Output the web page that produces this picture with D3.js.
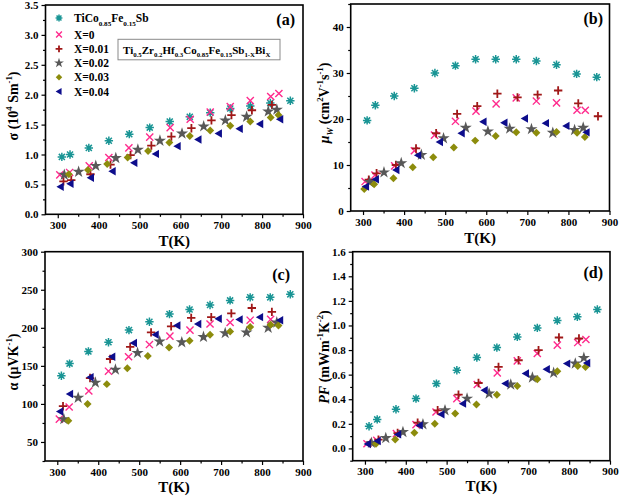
<!DOCTYPE html>
<html><head><meta charset="utf-8">
<script src="https://cdn.jsdelivr.net/npm/d3@7"></script>
<style>
body{margin:0;background:#fff}
svg text{font-family:"Liberation Serif","Times New Roman",serif;font-weight:bold;fill:#000}
</style>
</head><body>
<svg id="chart" width="620" height="497"></svg>
<script>
// ---------- DATA ----------
const seriesNames = ["TiCo0.85Fe0.15Sb", "X=0", "X=0.01", "X=0.02", "X=0.03", "X=0.04"];
const seriesColors = ["#1a9595", "#ff2a8d", "#a01818", "#585858", "#8c8c0c", "#0d0d8c"];
const seriesShapes = ["asterisk", "x", "plus", "star", "diamond", "triLeft"];

// temperatures (K) for each series
const T_TiCoFeSb = [310, 330, 376, 425, 475, 525, 574, 623, 673, 722, 771, 820, 869];
const T_X000 = [305, 329, 377, 425, 474, 525, 575, 624, 673, 722, 771, 821, 841];
const T_X001 = [314, 333, 380, 429, 478, 529, 578, 627, 676, 725, 775, 824, 872];
const T_X002 = [316, 351, 393, 442, 496, 550, 604, 657, 710, 762, 815, 836];
const T_X003 = [303, 327, 374, 421, 471, 521, 573, 623, 673, 722, 771, 821, 840];
const T_X004 = [307, 331, 381, 434, 487, 540, 593, 644, 694, 745, 795, 844];

// (a) electrical conductivity sigma (10^4 S/m)
const sigma_TiCoFeSb = [0.96, 1.00, 1.11, 1.23, 1.34, 1.45, 1.55, 1.63, 1.70, 1.77, 1.81, 1.86, 1.90];
const sigma_X000 = [0.66, 0.70, 0.81, 0.95, 1.11, 1.29, 1.45, 1.59, 1.71, 1.80, 1.90, 1.97, 2.02];
const sigma_X001 = [0.55, 0.57, 0.67, 0.83, 0.99, 1.15, 1.30, 1.44, 1.57, 1.66, 1.74, 1.83, null];
const sigma_X002 = [0.66, 0.71, 0.81, 0.94, 1.08, 1.23, 1.35, 1.47, 1.57, 1.63, 1.72, 1.75];
const sigma_X003 = [null, 0.67, 0.74, 0.84, 0.95, 1.06, 1.20, 1.31, 1.40, 1.48, 1.55, 1.62, 1.66];
const sigma_X004 = [0.46, 0.51, 0.61, 0.72, 0.86, 1.01, 1.14, 1.25, 1.35, 1.43, 1.51, 1.59];

// (b) weighted mobility mu_W (cm^2 V^-1 s^-1)
const mu_TiCoFeSb = [19.7, 23.0, 25.0, 26.7, 30.0, 31.6, 33.0, 33.0, 33.0, 32.6, 31.8, 29.8, 29.1];
const mu_X000 = [6.4, 7.8, 9.8, 13.1, 16.5, 19.5, 21.7, 23.3, 24.6, 23.9, 23.5, 21.9, 21.9];
const mu_X001 = [6.8, 8.2, 10.0, 13.6, 16.9, 21.1, 22.8, 25.5, 24.7, 25.3, 26.2, 23.4, 20.6];
const mu_X002 = [6.3, 8.4, 10.4, 12.2, 15.8, 18.1, 17.3, 17.9, 17.8, 17.0, 17.6, 18.1];
const mu_X003 = [4.8, 5.8, 7.1, 9.5, 11.7, 13.8, 15.3, 16.3, 17.1, 17.0, 17.2, 17.0, 16.1];
const mu_X004 = [5.3, 6.9, 8.9, 12.1, 15.0, 16.9, 19.4, 19.2, 20.1, 19.1, 18.5, 17.1];

// (c) Seebeck coefficient alpha (uV/K)
const alpha_TiCoFeSb = [137, 153, 169, 181, 197, 208, 218, 224, 230, 236, 240, 240, 244];
const alpha_X000 = [80, 96, 117, 143, 162, 178, 189, 197, 205, 207, 210, 211, null];
const alpha_X001 = [97, null, 134, 159, 175, 194, 202, 213, 214, 219, 226, 221, null];
const alpha_X002 = [80, 108, 128, 145, 167, 182, 181, 188, 193, 194, 200, 207];
const alpha_X003 = [null, 78, 100, 126, 147, 163, 174, 183, 191, 195, 201, 204, 203];
const alpha_X004 = [90, 113, 135, 162, 180, 191, 203, 205, 212, 211, 214, 210];

// (d) power factor PF (mW m^-1 K^-2)
const pf_TiCoFeSb = [0.18, 0.236, 0.318, 0.405, 0.527, 0.636, 0.739, 0.82, 0.907, 0.98, 1.04, 1.07, 1.13];
const pf_X000 = [0.038, 0.065, 0.12, 0.193, 0.296, 0.405, 0.52, 0.614, 0.712, 0.772, 0.84, 0.861, 0.886];
const pf_X001 = [0.045, 0.071, 0.125, 0.209, 0.31, 0.437, 0.532, 0.663, 0.717, 0.799, 0.902, 0.894, null];
const pf_X002 = [0.045, 0.084, 0.133, 0.196, 0.31, 0.405, 0.446, 0.519, 0.576, 0.614, 0.69, 0.736];
const pf_X003 = [null, 0.038, 0.073, 0.128, 0.201, 0.283, 0.358, 0.437, 0.508, 0.562, 0.628, 0.671, 0.663];
const pf_X004 = [0.036, 0.06, 0.114, 0.187, 0.277, 0.364, 0.473, 0.527, 0.609, 0.644, 0.69, 0.695];

const xTicks = [300, 400, 500, 600, 700, 800, 900];
const xMinor = [350, 450, 550, 650, 750, 850];
const yTicksA = [0.0, 0.5, 1.0, 1.5, 2.0, 2.5, 3.0, 3.5];
const yTicksB = [0, 10, 20, 30, 40];
const yTicksC = [50, 100, 150, 200, 250, 300];
const yTicksD = [0.0, 0.2, 0.4, 0.6, 0.8, 1.0, 1.2, 1.4, 1.6];

const temps = [T_TiCoFeSb, T_X000, T_X001, T_X002, T_X003, T_X004];

// ---------- DRAWING ----------
const svg = d3.select("#chart");
const FONT = '"Liberation Serif","Times New Roman",serif';

function rich(text, parts, base) {
  let cur = 0;
  parts.forEach(([t, type]) => {
    const ts = text.append("tspan").text(t);
    let off = 0, fs = base;
    if (type === "sub" || type === "isub") { off = base * 0.32; fs = base * 0.62; }
    if (type === "sup") { off = -base * 0.42; fs = base * 0.62; }
    ts.attr("dy", off - cur).attr("font-size", fs);
    if (type === "i" || type === "isub") ts.attr("font-style", "italic");
    cur = off;
  });
}

function marker(g, shape, color, s) {
  if (shape === "asterisk") {
    const k = s * 0.72;
    g.append("path").attr("d", `M${-s},0L${s},0M0,${-s}L0,${s}M${-k},${-k}L${k},${k}M${-k},${k}L${k},${-k}`)
      .attr("stroke", color).attr("stroke-width", 1.5).attr("fill", "none");
    g.append("circle").attr("r", s * 0.38).attr("fill", color);
  } else if (shape === "x") {
    const k = s * 0.85;
    g.append("path").attr("d", `M${-k},${-k}L${k},${k}M${-k},${k}L${k},${-k}`)
      .attr("stroke", color).attr("stroke-width", 1.4).attr("fill", "none");
  } else if (shape === "plus") {
    g.append("path").attr("d", `M${-s},0L${s},0M0,${-s}L0,${s}`)
      .attr("stroke", color).attr("stroke-width", 1.8).attr("fill", "none");
  } else if (shape === "star") {
    g.append("path").attr("d", d3.symbol(d3.symbolStar, s * s * 2.6)()).attr("fill", color);
  } else if (shape === "diamond") {
    const k = s * 0.95;
    g.append("path").attr("d", `M0,${-k}L${k},0L0,${k}L${-k},0Z`).attr("fill", color);
  } else if (shape === "triLeft") {
    g.append("path").attr("d", `M${-s},0L${s * 0.75},${-s}L${s * 0.75},${s}Z`).attr("fill", color);
  }
}

const panels = [
  { label: "(a)", vals: [sigma_TiCoFeSb, sigma_X000, sigma_X001, sigma_X002, sigma_X003, sigma_X004],
    ydom: [0, 3.5], yt: yTicksA, ystep: 0.25, fmt: d3.format(".1f"),
    x0: 45.5, x1: 303, y0: 5, y1: 214.3, lab: [295, 25],
    ytitle: { x: 18, y: 106, parts: [["σ (10", "n"], ["4", "sup"], [" Sm", "n"], ["-1", "sup"], [")", "n"]] },
    xt: 246 },
  { label: "(b)", vals: [mu_TiCoFeSb, mu_X000, mu_X001, mu_X002, mu_X003, mu_X004],
    ydom: [0, 45], yt: yTicksB, ystep: 5, fmt: d3.format("d"),
    x0: 350.7, x1: 609.5, y0: 4, y1: 211, lab: [603, 24],
    ytitle: { x: 329, y: 103, parts: [["μ", "i"], ["W", "isub"], [" (cm", "n"], ["2", "sup"], ["V", "n"], ["-1", "sup"], ["s", "n"], ["-1", "sup"], [")", "n"]] },
    xt: 243 },
  { label: "(c)", vals: [alpha_TiCoFeSb, alpha_X000, alpha_X001, alpha_X002, alpha_X003, alpha_X004],
    ydom: [25, 300], yt: yTicksC, ystep: 25, fmt: d3.format("d"),
    x0: 45, x1: 303, y0: 251.7, y1: 461, lab: [290, 280],
    ytitle: { x: 18, y: 362, parts: [["α (μVK", "n"], ["-1", "sup"], [")", "n"]] },
    xt: 492 },
  { label: "(d)", vals: [pf_TiCoFeSb, pf_X000, pf_X001, pf_X002, pf_X003, pf_X004],
    ydom: [-0.1, 1.6], yt: yTicksD, ystep: 0.1, fmt: d3.format(".1f"),
    x0: 352.7, x1: 610, y0: 251.7, y1: 460.7, lab: [603, 278],
    ytitle: { x: 329, y: 357, parts: [["PF", "i"], [" (mWm", "n"], ["-1", "sup"], ["K", "n"], ["-2", "sup"], [")", "n"]] },
    xt: 491 }
];

panels.forEach(p => {
  const g = svg.append("g");
  const xs = d3.scaleLinear().domain([270, 900]).range([p.x0, p.x1]);
  const ys = d3.scaleLinear().domain(p.ydom).range([p.y1, p.y0]);

  const yMinor = [];
  for (let v = p.ydom[0]; v <= p.ydom[1] + 1e-9; v += p.ystep) {
    const r = Math.round(v * 1000) / 1000;
    if (!p.yt.some(t => Math.abs(t - r) < 1e-6)) yMinor.push(r);
  }

  const styleAxis = ax => {
    ax.select(".domain").remove();
    ax.attr("font-family", null).attr("font-size", null);
    ax.selectAll("line").attr("stroke", "#000").attr("stroke-width", 1.2);
    ax.selectAll("text").style("font-family", FONT).style("font-weight", "bold").style("font-size", "11px");
  };

  g.append("g").attr("transform", `translate(0,${p.y1})`)
    .call(d3.axisBottom(xs).tickValues(xTicks).tickSize(4).tickSizeOuter(0).tickFormat(d3.format("d")))
    .call(styleAxis);
  g.append("g").attr("transform", `translate(0,${p.y1})`)
    .call(d3.axisBottom(xs).tickValues(xMinor).tickSize(2.5).tickSizeOuter(0).tickFormat(""))
    .call(styleAxis);
  g.append("g").attr("transform", `translate(${p.x0},0)`)
    .call(d3.axisLeft(ys).tickValues(p.yt).tickSize(4).tickSizeOuter(0).tickFormat(p.fmt))
    .call(styleAxis);
  g.append("g").attr("transform", `translate(${p.x0},0)`)
    .call(d3.axisLeft(ys).tickValues(yMinor).tickSize(2.5).tickSizeOuter(0).tickFormat(""))
    .call(styleAxis);

  g.append("rect").attr("x", p.x0).attr("y", p.y0)
    .attr("width", p.x1 - p.x0).attr("height", p.y1 - p.y0)
    .attr("fill", "none").attr("stroke", "#000").attr("stroke-width", 1.6);

  p.vals.forEach((arr, si) => {
    const pts = arr.map((v, i) => ({ t: temps[si][i], v })).filter(d => d.v != null && d.t != null);
    pts.forEach(d => {
      const mg = g.append("g").attr("transform", `translate(${xs(d.t)},${ys(d.v)})`);
      marker(mg, seriesShapes[si], seriesColors[si], 4.2);
    });
  });

  g.append("text").attr("x", p.lab[0]).attr("y", p.lab[1]).attr("text-anchor", "end")
    .style("font-size", "16px").text(p.label);

  g.append("text").attr("x", (p.x0 + p.x1) / 2).attr("y", p.xt).attr("text-anchor", "middle")
    .style("font-size", "15px").text("T(K)");

  const yt = g.append("text").attr("transform", `translate(${p.ytitle.x},${p.ytitle.y}) rotate(-90)`)
    .attr("text-anchor", "middle").style("font-size", "14px");
  rich(yt, p.ytitle.parts, 14);
});

// legend in panel (a)
const legY = [18, 34.5, 48.8, 63, 77.2, 91.5];
const legendParts = [
  [["TiCo", "n"], ["0.85", "sub"], ["Fe", "n"], ["0.15", "sub"], ["Sb", "n"]],
  [["X=0", "n"]], [["X=0.01", "n"]], [["X=0.02", "n"]], [["X=0.03", "n"]], [["X=0.04", "n"]]
];
seriesNames.forEach((name, i) => {
  const mg = svg.append("g").attr("transform", `translate(59,${legY[i]})`);
  marker(mg, seriesShapes[i], seriesColors[i], 3.4);
  const t = svg.append("text").attr("x", 74).attr("y", legY[i] + 4).style("font-size", "11.5px");
  rich(t, legendParts[i], 11.5);
});

// composition box
svg.append("rect").attr("x", 118).attr("y", 39.3).attr("width", 162).attr("height", 20.5)
  .attr("fill", "#fff").attr("stroke", "#8a8a8a").attr("stroke-width", 1);
const boxText = svg.append("text").attr("x", 123).attr("y", 53.5).style("font-size", "11px");
rich(boxText, [["Ti", "n"], ["0.5", "sub"], ["Zr", "n"], ["0.2", "sub"], ["Hf", "n"], ["0.3", "sub"],
  ["Co", "n"], ["0.85", "sub"], ["Fe", "n"], ["0.15", "sub"], ["Sb", "n"], ["1-X", "sub"], ["Bi", "n"], ["X", "sub"]], 11);
</script>
</body></html>
